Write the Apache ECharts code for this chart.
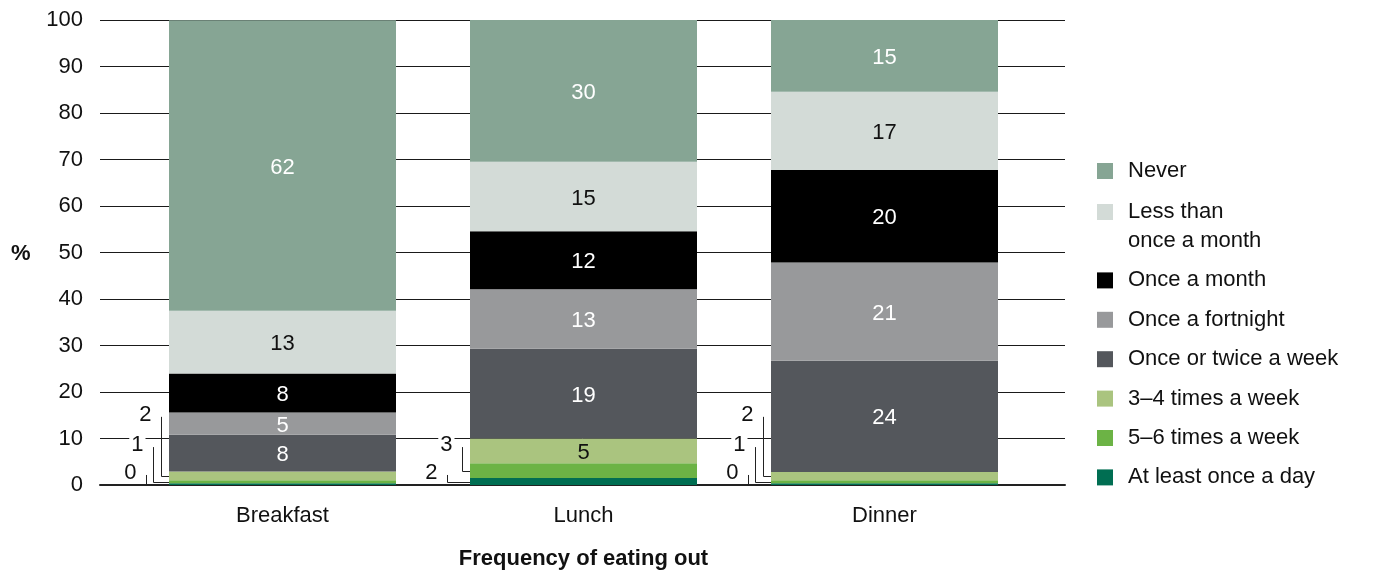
<!DOCTYPE html>
<html>
<head>
<meta charset="utf-8">
<script src="https://cdn.jsdelivr.net/npm/echarts@6/dist/echarts.min.js"></script>
<style>html,body{margin:0;padding:0;background:#fff}#c{width:1374px;height:576px}</style>
</head>
<body>
<div id="c"></div>
<script>
// Categories (meals)
const categories = ['Breakfast', 'Lunch', 'Dinner'];
// Series names, stacked bottom to top
const seriesNames = ['At least once a day', '5–6 times a week', '3–4 times a week', 'Once or twice a week', 'Once a fortnight', 'Once a month', 'Less than once a month', 'Never'];
// Values (%) per series: [Breakfast, Lunch, Dinner]
const atLeastOnceADay = [0.4, 1.5, 0.4];
const fiveSixWeek = [0.6, 3.2, 0.6];
const threeFourWeek = [1.9, 5.3, 1.8];
const onceTwiceWeek = [7.9, 19.3, 23.9];
const onceFortnight = [4.8, 12.8, 21.15];
const onceMonth = [8.4, 12.49, 19.9];
const lessThanMonth = [13.45, 14.9, 16.8];
const never = [62.49, 30.49, 15.45];
// Y axis ticks
const yTicks = [0, 10, 20, 30, 40, 50, 60, 70, 80, 90, 100];

const seriesValues = [atLeastOnceADay, fiveSixWeek, threeFourWeek, onceTwiceWeek, onceFortnight, onceMonth, lessThanMonth, never];
const colors = ['#006e52', '#6cb345', '#aac47f', '#54575c', '#98999b', '#000000', '#d3dbd7', '#86a594'];
const labelColors = ['#fff', '#fff', '#111', '#fff', '#fff', '#fff', '#111', '#fff'];

const FONT = '"Liberation Sans", Arial, sans-serif';
const FS = 22;
const BAR_W = 227;
const INSIDE_MIN = 4;
const LEVEL_BY_SERIES = {2: 15.3, 1: 8.8, 0: 2.8};

// Build callouts for small bottom segments
const callouts = [];
categories.forEach((cat, c) => {
  let cum = 0;
  const list = [];
  seriesValues.forEach((arr, s) => {
    const v = arr[c];
    if (s < 3 && v < INSIDE_MIN) list.push({s: s, mid: cum + v / 2, v: v});
    cum += v;
  });
  list.sort((a, b) => b.s - a.s);
  const n = list.length;
  list.forEach((it, i) => {
    const xOff = i === 0 ? 8 : (i === n - 1 ? 23 : 16);
    callouts.push({cat: cat, mid: it.mid, level: LEVEL_BY_SERIES[it.s], text: String(Math.round(it.v)), xOff: xOff});
  });
});

const barSeries = seriesNames.map((name, s) => ({
  name: name,
  type: 'bar',
  stack: 'total',
  xAxisIndex: 1,
  yAxisIndex: 1,
  barWidth: BAR_W,
  itemStyle: {color: colors[s]},
  label: {
    show: true,
    position: 'inside',
    offset: [0, 2],
    color: labelColors[s],
    fontFamily: FONT,
    fontSize: FS,
    formatter: p => (p.value >= INSIDE_MIN ? String(Math.round(p.value)) : '')
  },
  emphasis: {disabled: true},
  data: seriesValues[s]
}));

const calloutSeries = {
  type: 'custom',
  xAxisIndex: 1,
  yAxisIndex: 1,
  clip: false,
  z: 5,
  silent: true,
  data: callouts.map(c => [c.cat, c.mid]),
  renderItem: function (params, api) {
    const co = callouts[params.dataIndex];
    const pt = api.coord([co.cat, co.mid]);
    const lp = api.coord([co.cat, co.level]);
    const barLeft = pt[0] - BAR_W / 2;
    const lineX = Math.round(barLeft - co.xOff) + 0.5;
    const yMid = Math.round(pt[1]) + 0.5;
    const topY = lp[1] + 3;
    return {
      type: 'group',
      children: [
        {type: 'polyline', shape: {points: [[lineX, topY], [lineX, yMid], [barLeft, yMid]]}, style: {stroke: '#222', lineWidth: 1, fill: null}},
        {type: 'text', z2: 10, style: {text: co.text, x: lineX - 8, y: lp[1] + 1, align: 'right', verticalAlign: 'middle', fontFamily: FONT, fontSize: FS, fill: '#111', backgroundColor: '#fff', padding: [0, 2]}}
      ]
    };
  }
};

const legendText = {fontFamily: FONT, fontSize: FS, color: '#111', lineHeight: 29, padding: [0, 0, 0, 10]};

const option = {
  animation: false,
  backgroundColor: '#fff',
  title: {text: '%', left: 11, top: 243, padding: 0, textStyle: {fontFamily: FONT, fontSize: FS, fontWeight: 'bold', color: '#111'}},
  legend: [
    {data: ['Never'], orient: 'vertical', left: 1097, top: 156.5, padding: 0, itemWidth: 16, itemHeight: 16, icon: 'rect', textStyle: legendText, selectedMode: false},
    {data: seriesNames.slice(0, 7).reverse(), orient: 'vertical', left: 1097, top: 168.5, padding: 0, itemGap: 10.4, itemWidth: 16, itemHeight: 16, icon: 'rect', textStyle: legendText, selectedMode: false,
     formatter: name => name === 'Less than once a month' ? '\nLess than\nonce a month' : name}
  ],
  grid: [
    {left: 100, right: 309, top: 20, bottom: 91},
    {left: 132, right: 339, top: 20, bottom: 91}
  ],
  xAxis: [
    {gridIndex: 0, type: 'value', min: 0, max: 1, axisLine: {show: true, lineStyle: {color: '#222', width: 2}}, axisTick: {show: false}, axisLabel: {show: false}, splitLine: {show: false}},
    {gridIndex: 1, type: 'category', data: categories, axisLine: {show: false}, axisTick: {show: false},
     axisLabel: {fontFamily: FONT, fontSize: FS, color: '#111', margin: 20},
     name: 'Frequency of eating out', nameLocation: 'middle', nameGap: 63,
     nameTextStyle: {fontFamily: FONT, fontSize: FS, fontWeight: 'bold', color: '#111'}}
  ],
  yAxis: [
    {gridIndex: 0, type: 'value', min: yTicks[0], max: yTicks[yTicks.length - 1], interval: yTicks[1] - yTicks[0],
     axisLine: {show: false}, axisTick: {show: false},
     axisLabel: {fontFamily: FONT, fontSize: FS, color: '#111', margin: 17},
     splitLine: {show: true, lineStyle: {color: '#1a1a1a', width: 1}}},
    {gridIndex: 1, type: 'value', min: 0, max: 100, show: false}
  ],
  series: barSeries.concat([calloutSeries])
};

const chart = echarts.init(document.getElementById('c'), null, {renderer: 'canvas'});
chart.setOption(option);
</script>
</body>
</html>
